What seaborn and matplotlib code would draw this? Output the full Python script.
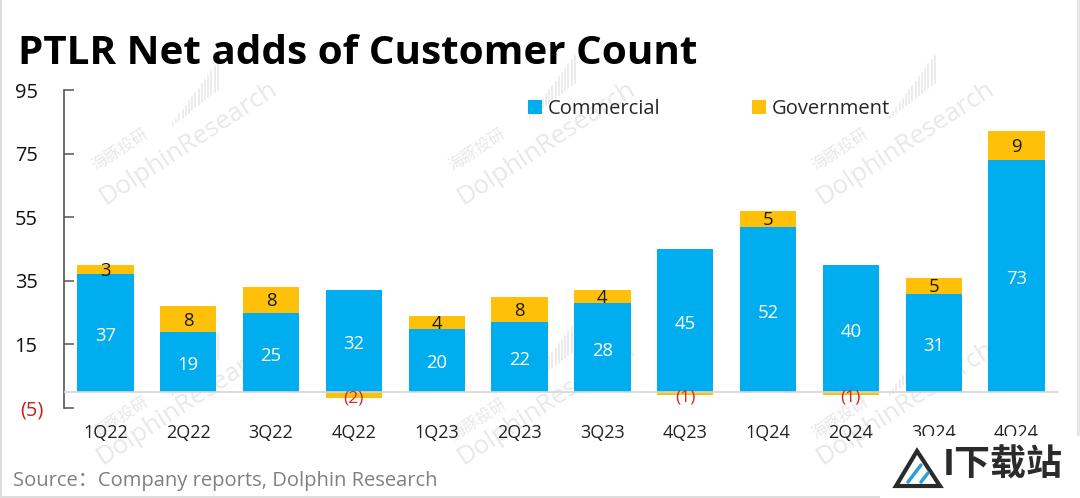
import matplotlib
matplotlib.use("Agg")
import matplotlib.pyplot as plt
from matplotlib.patches import Rectangle, Polygon
from matplotlib.lines import Line2D
from matplotlib.transforms import ScaledTranslation
import seaborn as sns
import pandas as pd

quarters = ["1Q22","2Q22","3Q22","4Q22","1Q23","2Q23","3Q23","4Q23","1Q24","2Q24","3Q24","4Q24"]
commercial = [37,19,25,32,20,22,28,45,52,40,31,73]
government = [3,8,8,-2,4,8,4,-1,5,-1,5,9]
y_ticks = [-5,15,35,55,75,95]
y_labels = ["(5)","15","35","55","75","95"]

BLUE = "#00AEEF"; GOLD = "#FFC00A"
W, H = 1080, 498
sns.set_theme(style="white")
plt.rcParams["font.family"] = ["Open Sans", "Noto Sans CJK SC", "DejaVu Sans"]
px = 0.72

df = pd.DataFrame({"q": quarters, "c": commercial, "g": government})
fig = plt.figure(figsize=(W/100, H/100), dpi=100, facecolor="white")
ax = fig.add_axes([64/W, 1-408/H, (1058-64)/W, 318/H])
ax.patch.set_alpha(0)

sns.barplot(data=df, x="q", y="c", color=BLUE, width=0.68, saturation=1, ax=ax, zorder=2,
            label="Commercial", linewidth=0)
g_bottom = [c if g > 0 else 0 for c, g in zip(commercial, government)]
sns.barplot(data=df, x="q", y="g", color=GOLD, width=0.68, saturation=1, ax=ax, zorder=2,
            bottom=g_bottom, label="Government", linewidth=0)
ax.set_xlim(-0.5, 11.5); ax.set_ylim(-5, 95)
ax.set_xlabel(""); ax.set_ylabel("")
ax.axhline(0, color="#d4d4d4", lw=1.2, zorder=3)

for s in ["top","right","bottom"]:
    ax.spines[s].set_visible(False)
ax.spines["left"].set_color("#555555"); ax.spines["left"].set_linewidth(1.2)
ax.set_yticks(y_ticks); ax.set_yticklabels(y_labels, fontsize=20*px, color="#111111")
ax.tick_params(axis="y", direction="in", length=7, width=1.1, color="#555555", left=True, pad=19)
ax.tick_params(axis="x", length=0, pad=11.5, labelsize=18*px, labelcolor="#222222")
neg_label = ax.get_yticklabels()[0]
neg_label.set_color("#C8201F")
neg_label.set_transform(neg_label.get_transform() + ScaledTranslation(6/100, 0, fig.dpi_scale_trans))

for i, (c, g) in enumerate(zip(commercial, government)):
    ax.text(i, c/2 - 1, str(c), ha="center", va="center", color="white", fontsize=18.5*px, zorder=5)
    if g > 0:
        ax.text(i, c + g/2 - 0.5, str(g), ha="center", va="center", color="#1a1a1a", fontsize=18.5*px, zorder=5)
    else:
        ax.text(i, -2.0 if g == -2 else -1.8, f"({-g})", ha="center", va="center", color="#D0282A", fontsize=17.5*px, zorder=5)

handles, labels = ax.get_legend_handles_labels()
leg = ax.legend(handles, labels, ncols=2, frameon=False, fontsize=20.2*px, loc="center left",
                bbox_to_anchor=((528-64)/994, (408-109)/318), handlelength=0.68, handleheight=0.68,
                handletextpad=0.3, columnspacing=4.55, borderaxespad=0, borderpad=0)

# watermarks, behind the bars
wm = "#d9d9d9"
for (x, y) in [(188,143),(546,143),(905,143),(185,403),(546,403),(905,403)]:
    fig.text(x/W, 1-y/H, "DolphinResearch", rotation=33, ha="center", va="center", color=wm,
             fontsize=26*px, alpha=0.6, rotation_mode="anchor", zorder=-1)
for (x, y) in [(120,150),(477,150),(840,150),(120,418),(478,420),(840,418)]:
    fig.text(x/W, 1-y/H, "海豚投研", rotation=33, ha="center", va="center", color=wm,
             fontsize=16*px, alpha=0.6, rotation_mode="anchor", zorder=-1)
for (x0, y0) in [(173,125),(530,118),(890,118),(173,395),(530,385),(890,395)]:
    for k in range(15):
        h = 2 + k*1.8
        fig.add_artist(Line2D([(x0+k*3.2)/W]*2, [1-(y0-k*2.5)/H, 1-(y0-k*2.5-h)/H], color="#e4e4e4",
                              lw=1.4, alpha=0.7, zorder=-1))

fig.text(18/W, 1-53/H, "PTLR Net adds of Customer Count", fontsize=40.4*px, fontweight="bold",
         color="black", ha="left", va="center")
fig.text(13/W, 1-481/H, "Source：Company reports, Dolphin Research", fontsize=20.2*px, color="#808080",
         ha="left", va="center")

# logo block over the bottom right corner
fig.add_artist(Rectangle((880/W, 0), 200/W, (498-436)/H, transform=fig.transFigure, fc="white", ec="none", zorder=20))
fig.add_artist(Polygon([(896/W,1-486/H),(917/W,1-451/H),(940/W,1-486/H)], closed=True, transform=fig.transFigure,
                       fc="white", ec="#2b2b2b", lw=3, zorder=21))
for (xa, ya, xb, yb) in [(908,482,921,465),(921,482,928,473)]:
    fig.add_artist(Line2D([xa/W, xb/W], [1-ya/H, 1-yb/H], color="#2A9FD8", lw=2.5, zorder=22))
fig.text(943/W, 1-467/H, "I下载站", fontsize=36*px, fontweight="bold", color="#2b2b2b", ha="left", va="center", zorder=22)

# grey picture edges
fig.add_artist(Rectangle((0,0), 2/W, 1, transform=fig.transFigure, fc="#dddddd", ec="none", zorder=19))
fig.add_artist(Rectangle((0,0), 880/W, 2/H, transform=fig.transFigure, fc="#dddddd", ec="none", zorder=19))
fig.add_artist(Rectangle((1077/W,(498-436)/H), 3/W, 436/H, transform=fig.transFigure, fc="#e6e6e6", ec="none", zorder=19))

fig.savefig("out.png", dpi=100)
